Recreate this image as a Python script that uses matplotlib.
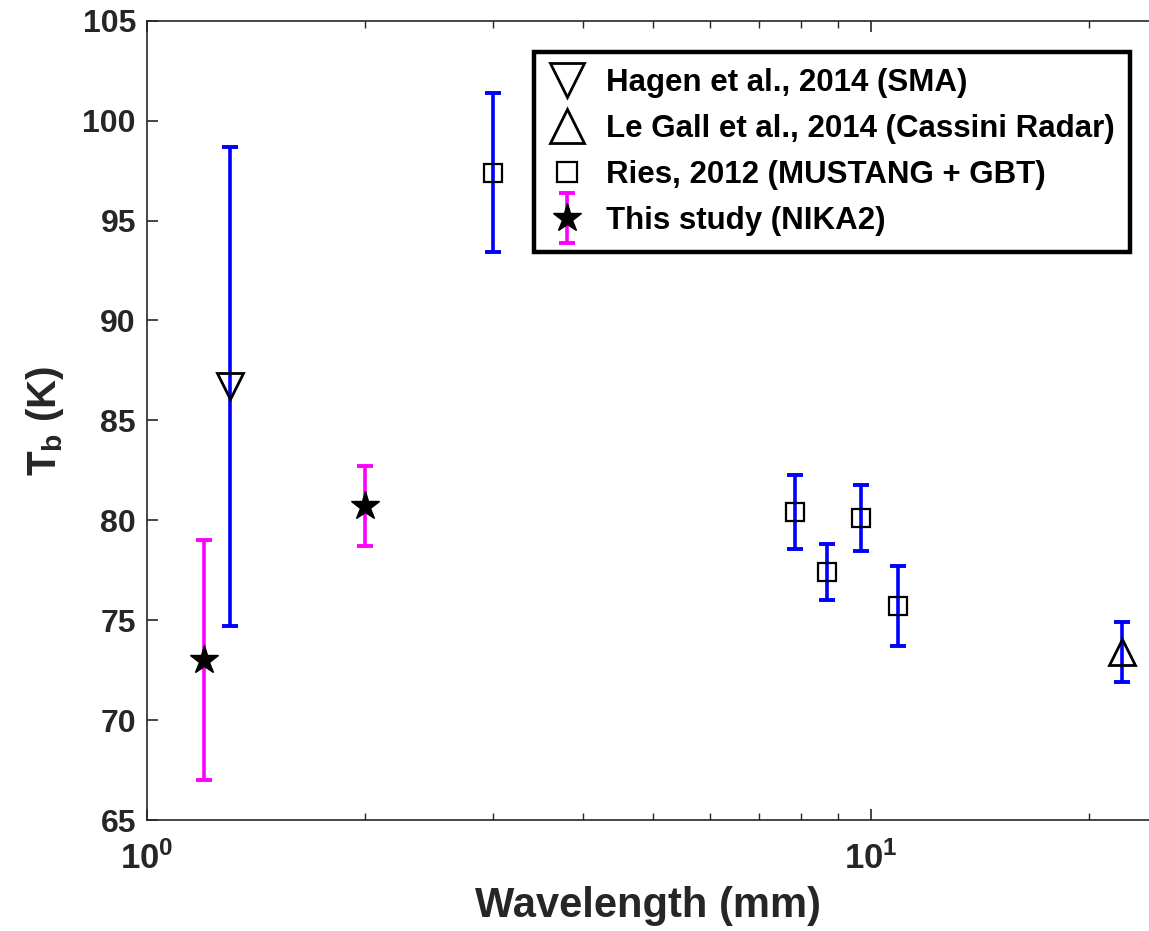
import numpy as np
import matplotlib
matplotlib.use("Agg")
import matplotlib.pyplot as plt
from matplotlib.ticker import FuncFormatter, NullFormatter, LogLocator
from matplotlib.container import ErrorbarContainer
from matplotlib.legend_handler import HandlerErrorbar

# ------------------------------
# Data
# ------------------------------
nika_wl = [1.2, 2.0]
nika_tb = [73.0, 80.7]
nika_err = [6.0, 2.0]

hagen_wl = [1.3]
hagen_tb = [86.7]
hagen_err = [12.0]

legall_wl = [22.2]
legall_tb = [73.4]
legall_err = [1.5]

ries_wl = [3.0, 7.86, 8.68, 9.68, 10.9]
ries_tb = [97.4, 80.4, 77.4, 80.1, 75.7]
ries_err = [4.0, 1.85, 1.4, 1.65, 2.0]

y_ticks = [65, 70, 75, 80, 85, 90, 95, 100, 105]

# ------------------------------
# Style
# ------------------------------
plt.rcParams["font.family"] = ["Liberation Sans", "DejaVu Sans"]
plt.rcParams["font.weight"] = "bold"
plt.rcParams["mathtext.fontset"] = "custom"
plt.rcParams["mathtext.rm"] = "Liberation Sans:bold"
plt.rcParams["mathtext.bf"] = "Liberation Sans:bold"
plt.rcParams["mathtext.it"] = "Liberation Sans:bold"

dark = "#262626"
blue = "#0000ff"
magenta = "#ff00ff"

fig = plt.figure(figsize=(11.49, 9.31), dpi=100)
ax = fig.add_axes([0.128, 0.1192, 0.872, 0.8586])

err_kw = dict(fmt="none", ecolor=blue, elinewidth=2.6, capsize=5.5, capthick=2.8, zorder=2)

# error bars (blue) for literature values
ax.errorbar(hagen_wl, hagen_tb, yerr=hagen_err, **err_kw)
ax.errorbar(legall_wl, legall_tb, yerr=legall_err, **err_kw)
ax.errorbar(ries_wl, ries_tb, yerr=ries_err, **err_kw)

# markers
h_hagen, = ax.plot(hagen_wl, hagen_tb, "v", ms=19, mfc="none", mec="k", mew=2,
                   zorder=3, label="Hagen et al., 2014 (SMA)")
h_legall, = ax.plot(legall_wl, legall_tb, "^", ms=19, mfc="none", mec="k", mew=2,
                    zorder=3, label="Le Gall et al., 2014 (Cassini Radar)")
h_ries, = ax.plot(ries_wl, ries_tb, "s", ms=13, mfc="none", mec="k", mew=1.6,
                  zorder=3, label="Ries, 2012 (MUSTANG + GBT)")

# this study
h_nika = ax.errorbar(nika_wl, nika_tb, yerr=nika_err, fmt="*", ms=21, mfc="k", mec="k",
                     ecolor=magenta, elinewidth=2.6, capsize=5.5, capthick=2.8, zorder=4,
                     label="This study (NIKA2)")

# ------------------------------
# Axes
# ------------------------------
ax.set_xscale("log")
ax.set_xlim(1, 24.2)
ax.set_ylim(65, 105)
ax.set_yticks(y_ticks)
ax.xaxis.set_major_locator(LogLocator(base=10))
ax.xaxis.set_major_formatter(FuncFormatter(lambda v, p: r"$\mathbf{10^{%d}}$" % round(np.log10(v))))
ax.xaxis.set_minor_formatter(NullFormatter())

for side in ["left", "top", "bottom"]:
    ax.spines[side].set_color(dark)
    ax.spines[side].set_linewidth(1.2)
ax.spines["right"].set_visible(False)

ax.tick_params(axis="both", which="major", direction="in", length=8, width=1.2,
               color=dark, labelcolor=dark, labelsize=23)
ax.tick_params(axis="x", which="major", labelsize=25)
ax.tick_params(axis="both", which="minor", direction="in", length=5, width=1.0, color=dark)
ax.tick_params(axis="x", which="both", top=True, pad=15)
ax.tick_params(axis="y", which="both", right=False, pad=8)

ax.set_xlabel("Wavelength (mm)", fontsize=30, fontweight="bold", color=dark, labelpad=8)
ax.set_ylabel(r"T$_{\mathbf{b}}$ (K)", fontsize=29, fontweight="bold", color=dark, labelpad=12)

leg = ax.legend(handles=[h_hagen, h_legall, h_ries, h_nika], loc="upper right",
                bbox_to_anchor=(1130 / 1149, 1 - 52 / 931), bbox_transform=fig.transFigure,
                fontsize=22.5, frameon=True, fancybox=False, edgecolor="k",
                borderpad=0.5, labelspacing=0.52, handlelength=1.1, handletextpad=0.7,
                borderaxespad=0,
                handler_map={ErrorbarContainer: HandlerErrorbar(xerr_size=0.5, yerr_size=0.8)})
leg.get_frame().set_linewidth(3.2)
leg.get_frame().set_alpha(None)
leg.get_frame().set_facecolor("white")
for t in leg.get_texts():
    t.set_color("k")
h_list = leg.legend_handles
h_list[0].set_markersize(24)
h_list[1].set_markersize(24)
h_list[2].set_markersize(15)

fig.savefig("out.png", dpi=100)
